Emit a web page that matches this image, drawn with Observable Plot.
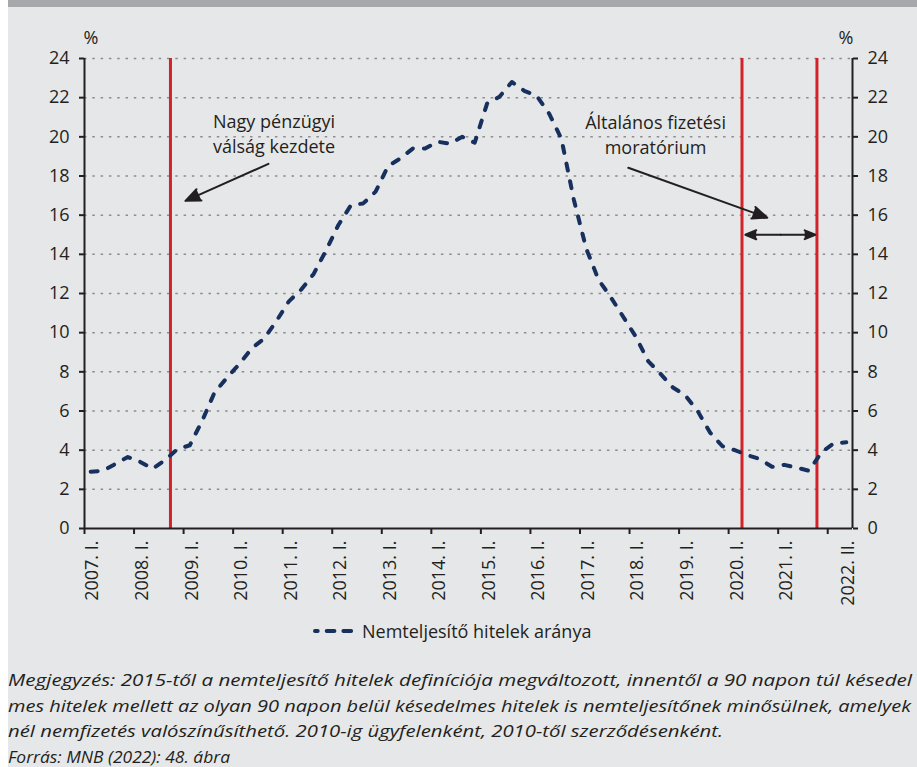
<!DOCTYPE html>
<html><head><meta charset="utf-8">
<script src="https://cdn.jsdelivr.net/npm/d3@7"></script>
<script src="https://cdn.jsdelivr.net/npm/@observablehq/plot@0.6"></script>
<style>
html,body{margin:0;padding:0;background:#fff;}
body{width:917px;height:767px;overflow:hidden;position:relative;font-family:"Open Sans",sans-serif;color:#231f20;}
#panel{position:absolute;left:8px;top:0;width:909px;height:760px;background:#e6e7e8;border-top:7px solid #a6a8ab;}
#chart{position:absolute;left:0;top:0;}
#legend{position:absolute;top:619px;left:311px;height:24px;display:flex;align-items:center;font-size:18px;white-space:nowrap;}
#legend svg{margin-right:7px;}
#notes{position:absolute;left:8px;top:667px;font-style:italic;font-size:17px;white-space:nowrap;line-height:25.5px;}
#notes span{display:inline-block;transform-origin:0 50%;}
</style>
</head><body>
<div id="panel"></div>
<div id="chart"></div>
<div id="legend"></div>
<div id="notes"></div>
<script>
// ---- data ----
const values = [2.9, 2.95, 3.3, 3.65, 3.4, 3.05, 3.5, 4.05, 4.25, 5.5, 6.95, 7.7, 8.4, 9.2, 9.7, 10.6,
  11.6, 12.2, 13.0, 14.2, 15.5, 16.5, 16.6, 17.2, 18.5, 18.9, 19.4, 19.4, 19.75, 19.65, 20.0, 19.7,
  21.7, 22.05, 22.8, 22.35, 22.1, 21.2, 19.9, 16.8, 14.3, 12.7, 11.8, 10.8, 9.8, 8.55, 7.9, 7.2,
  6.8, 6.0, 4.9, 4.2, 4.0, 3.75, 3.55, 3.15, 3.25, 3.1, 2.95, 3.9, 4.35, 4.4];
const xLabels = ["2007. I.", "2008. I.", "2009. I.", "2010. I.", "2011. I.", "2012. I.", "2013. I.", "2014. I.",
  "2015. I.", "2016. I.", "2017. I.", "2018. I.", "2019. I.", "2020. I.", "2021. I.", "2022. II."];
const labelQuarters = [0, 4, 8, 12, 16, 20, 24, 28, 32, 36, 40, 44, 48, 52, 56, 61];
const yearBoundaries = [0, 4, 8, 12, 16, 20, 24, 28, 32, 36, 40, 44, 48, 52, 56, 60];
const yTicks = [0, 2, 4, 6, 8, 10, 12, 14, 16, 18, 20, 22, 24];
const gridTicks = [2, 4, 6, 8, 10, 12, 14, 16, 18, 20, 22, 24];
const eventPositions = [6.94, 53.08, 59.13];
const annotationTexts = ["Nagy pénzügyi\nválság kezdete", "Általános fizetési\nmoratórium"];
const annotationX = [15.3, 46.1];
const annotationY = [20.2, 20.15];
const arrowX1 = [14.85, 43.9, 56.2, 56.2];
const arrowY1 = [18.62, 18.42, 15.0, 15.0];
const arrowX2 = [8.15, 55.12, 53.35, 59.0];
const arrowY2 = [16.73, 15.87, 15.0, 15.0];
const legendLabel = "Nemteljesítő hitelek aránya";
const noteLines = [
  "Megjegyzés: 2015-től a nemteljesítő hitelek definíciója megváltozott, innentől a 90 napon túl késedel",
  "mes hitelek mellett az olyan 90 napon belül késedelmes hitelek is nemteljesítőnek minősülnek, amelyek",
  "nél nemfizetés valószínűsíthető. 2010-ig ügyfelenként, 2010-től szerződésenként.",
  "Forrás: MNB (2022): 48. ábra"
];
const noteWidths = [904, 903, 715, 222];

// ---- derived tables ----
const series = values.map((v, i) => ({q: i + 0.5, v}));
const labelPos = labelQuarters.map(q => q + 0.5);
const labelMap = new Map(labelPos.map((p, i) => [p, xLabels[i]]));
const annotations = annotationTexts.map((t, i) => ({t, x: annotationX[i], y: annotationY[i]}));
const arrows = arrowX1.map((x1, i) => ({x1, y1: arrowY1[i], x2: arrowX2[i], y2: arrowY2[i]}));
const ink = "#231f20";

const plot = Plot.plot({
  width: 917, height: 620,
  marginLeft: 84, marginRight: 65, marginTop: 58, marginBottom: 92,
  style: {background: "transparent", fontFamily: "'Open Sans', sans-serif", fontSize: "18px", color: ink, overflow: "visible"},
  x: {domain: [0, 62], axis: null},
  y: {domain: [0, 24], axis: null},
  marks: [
    Plot.ruleY(gridTicks, {stroke: "#8d8d8d", strokeWidth: 1.5, strokeDasharray: "2.5,5.8"}),
    Plot.ruleX(eventPositions, {y1: 0, y2: 24, stroke: "#d2232a", strokeWidth: 3}),
    Plot.line(series, {x: "q", y: "v", stroke: "#17305e", strokeWidth: 4, strokeDasharray: "7,11", strokeLinecap: "round", strokeLinejoin: "round"}),
    Plot.ruleX([0, 62], {y1: 0, y2: 24, stroke: ink, strokeWidth: 2}),
    Plot.ruleY([0], {stroke: ink, strokeWidth: 2}),
    Plot.axisY({anchor: "left", ticks: yTicks, tickSize: 5, tickPadding: 10, strokeWidth: 2, tickFormat: d => String(d)}),
    Plot.axisY({anchor: "right", ticks: yTicks, tickSize: 5, tickPadding: 10, strokeWidth: 2, tickFormat: d => String(d)}),
    Plot.axisX({ticks: yearBoundaries, tickSize: 6, strokeWidth: 2, tickFormat: () => ""}),
    Plot.axisX({ticks: labelPos, tickSize: 0, tickPadding: 12, tickRotate: -90, dx: 2, tickFormat: d => labelMap.get(d)}),
    Plot.text(annotations, {x: "x", y: "y", text: "t", lineAnchor: "middle", lineHeight: 1.37, fill: ink}),
    Plot.arrow(arrows, {x1: "x1", y1: "y1", x2: "x2", y2: "y2", stroke: ink, strokeWidth: 2, headLength: 12, headAngle: 45, fill: ink}),
    Plot.text(["%"], {frameAnchor: "top-left", dx: -1, dy: -20, textAnchor: "start", lineAnchor: "middle", fill: ink}),
    Plot.text(["%"], {frameAnchor: "top-right", dx: 1, dy: -20, textAnchor: "end", lineAnchor: "middle", fill: ink})
  ]
});
document.getElementById("chart").appendChild(plot);

// legend
const legend = document.getElementById("legend");
legend.innerHTML = `<svg width="44" height="10"><line x1="4" x2="41" y1="5" y2="5" stroke="#17305e" stroke-width="4" stroke-linecap="round" stroke-dasharray="2.7,9,7.7,9,7.7,20"/></svg>`;
const lt = document.createElement("span");
lt.textContent = legendLabel;
legend.appendChild(lt);

// notes
const notes = document.getElementById("notes");
noteLines.forEach((t, i) => {
  const d = document.createElement("div");
  if (i === 3) { d.style.marginTop = "3px"; d.style.lineHeight = "20px"; }
  const s = document.createElement("span");
  s.textContent = t;
  d.appendChild(s);
  notes.appendChild(d);
  const w = s.getBoundingClientRect().width;
  s.style.transform = `scaleX(${noteWidths[i] / w})`;
});
</script>
</body></html>
